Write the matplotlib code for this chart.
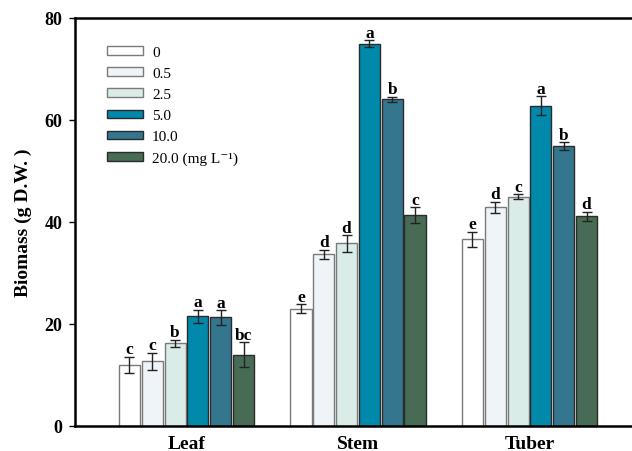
import numpy as np
import matplotlib
matplotlib.use("Agg")
import matplotlib.pyplot as plt

# data
organs = ["Leaf", "Stem", "Tuber"]
conc_labels = ["0", "0.5", "2.5", "5.0", "10.0", "20.0 (mg L\u207b\u00b9)"]
colors = ["#ffffff", "#eef4f8", "#d9ece7", "#0089ab", "#35768f", "#476b54"]

biomass = [
    [12.0, 12.7, 16.2, 21.5, 21.3, 14.0],   # Leaf
    [23.0, 33.7, 35.8, 75.0, 64.1, 41.4],   # Stem
    [36.6, 42.9, 45.0, 62.8, 54.9, 41.1],   # Tuber
]
errors = [
    [1.6, 1.7, 0.7, 1.3, 1.4, 2.4],
    [0.9, 0.9, 1.6, 0.7, 0.5, 1.5],
    [1.5, 1.1, 0.5, 1.9, 0.7, 0.9],
]
letters = [
    ["c", "c", "b", "a", "a", "bc"],
    ["e", "d", "d", "a", "b", "c"],
    ["e", "d", "c", "a", "b", "d"],
]

plt.rcParams['font.family'] = ['Liberation Serif', 'DejaVu Serif']

fig = plt.figure(figsize=(6.32, 4.52), dpi=100)
ax = fig.add_axes([75 / 632, 25 / 452, 566 / 632, 408 / 452])

x = np.arange(len(organs))
step = 0.133
width = 0.123
vals = np.array(biomass)
errs = np.array(errors)

for i in range(len(conc_labels)):
    pos = x + (i - 2.5) * step
    edge = "#7a7a7a" if i < 3 else "#2b2b2b"
    ax.bar(pos, vals[:, i], width, color=colors[i], edgecolor=edge,
           linewidth=1.0, label=conc_labels[i], zorder=2)
    ax.errorbar(pos, vals[:, i], yerr=errs[:, i], fmt="none",
                ecolor="#222222", elinewidth=1.0, capsize=3.5,
                capthick=1.0, zorder=3)
    for j in range(len(organs)):
        ax.text(pos[j], vals[j, i] + errs[j, i] + 0.65, letters[j][i],
                ha="center", va="baseline", fontsize=12.5, fontweight="bold")

ax.set_xlim(-0.65, 2.65)
ax.set_ylim(0, 80)
ax.set_yticks([0, 20, 40, 60, 80])
ax.set_xticks(x)
ax.set_xticklabels(organs, fontsize=14, fontweight="bold")
for t in ax.get_yticklabels():
    t.set_fontweight("bold")
    t.set_fontsize(13)
ax.tick_params(axis="x", length=0, pad=6.5)
ax.tick_params(axis="y", direction="out", length=4, width=1.0, pad=5)
ax.set_ylabel("Biomass (g D.W. )", fontsize=14, fontweight="bold", labelpad=9)

for s in ["left", "bottom", "top"]:
    ax.spines[s].set_linewidth(1.8)
ax.spines["right"].set_visible(False)

ax.legend(loc="upper left", bbox_to_anchor=(32 / 566, 1 - 28 / 408),
          frameon=False, fontsize=11, handlelength=2.35, handleheight=0.5,
          labelspacing=0.53, handletextpad=0.6, borderpad=0, borderaxespad=0)

fig.savefig("out.png", dpi=100)
